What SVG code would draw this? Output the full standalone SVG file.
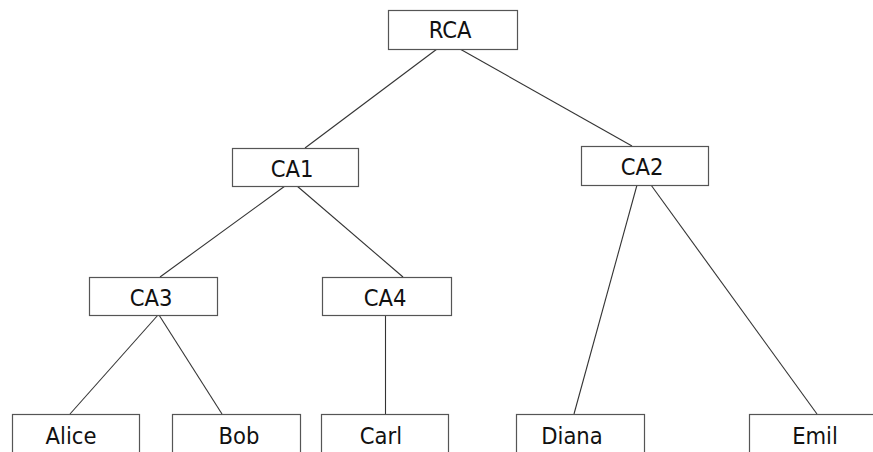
<svg xmlns="http://www.w3.org/2000/svg" width="873" height="452" viewBox="0 0 873 452">
  <style>
    .box { fill: #ffffff; stroke: #555555; stroke-width: 1.2; }
    .edge { stroke: #333333; stroke-width: 1.1; fill: none; }
    .lbl { font-family: "DejaVu Sans Condensed", "DejaVu Sans", Verdana, sans-serif; font-stretch: condensed; font-size: 23.5px; fill: #111111; text-anchor: middle; }
  </style>
  <rect width="873" height="452" fill="#ffffff"/>
  <g id="connectors">
    <line class="edge" x1="437" y1="49" x2="305" y2="148"/>
    <line class="edge" x1="460" y1="49" x2="632" y2="146"/>
    <line class="edge" x1="285" y1="186" x2="160" y2="277"/>
    <line class="edge" x1="297" y1="186" x2="403" y2="277"/>
    <line class="edge" x1="158" y1="315" x2="70" y2="414"/>
    <line class="edge" x1="159" y1="315" x2="222" y2="414"/>
    <line class="edge" x1="385.5" y1="315" x2="385.5" y2="414"/>
    <line class="edge" x1="637" y1="185" x2="574" y2="414"/>
    <line class="edge" x1="651" y1="185" x2="817" y2="414"/>
  </g>
  <g id="RCA">
    <rect class="box" x="388.5" y="10.5" width="129" height="39"/>
    <text class="lbl" x="450" y="38">RCA</text>
  </g>
  <g id="CA1">
    <rect class="box" x="232.5" y="148.5" width="126" height="38"/>
    <text class="lbl" x="292" y="177">CA1</text>
  </g>
  <g id="CA2">
    <rect class="box" x="581.5" y="146.5" width="127" height="39"/>
    <text class="lbl" x="642" y="175">CA2</text>
  </g>
  <g id="CA3">
    <rect class="box" x="89.5" y="277.5" width="128" height="38"/>
    <text class="lbl" x="151" y="306">CA3</text>
  </g>
  <g id="CA4">
    <rect class="box" x="322.5" y="277.5" width="129" height="38"/>
    <text class="lbl" x="385" y="306">CA4</text>
  </g>
  <g id="Alice">
    <rect class="box" x="12.5" y="414.5" width="127" height="45"/>
    <text class="lbl" x="71" y="444">Alice</text>
  </g>
  <g id="Bob">
    <rect class="box" x="172.5" y="414.5" width="128" height="45"/>
    <text class="lbl" x="239" y="444">Bob</text>
  </g>
  <g id="Carl">
    <rect class="box" x="321.5" y="414.5" width="127" height="45"/>
    <text class="lbl" x="381" y="444">Carl</text>
  </g>
  <g id="Diana">
    <rect class="box" x="516.5" y="414.5" width="128" height="45"/>
    <text class="lbl" x="572" y="444">Diana</text>
  </g>
  <g id="Emil">
    <rect class="box" x="749.5" y="414.5" width="130" height="45"/>
    <text class="lbl" x="815" y="444">Emil</text>
  </g>
</svg>
